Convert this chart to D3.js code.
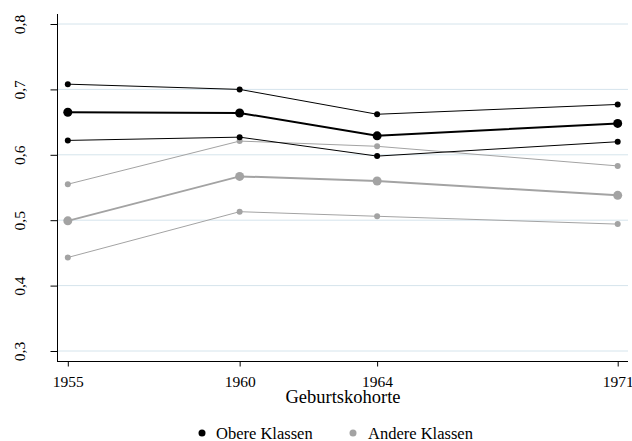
<!DOCTYPE html>
<html><head><meta charset="utf-8">
<script src="https://cdn.jsdelivr.net/npm/d3@7"></script>
<style>body{margin:0;background:#fff}svg{display:block}text{font-family:"Liberation Serif","Times New Roman",serif;fill:#000}</style>
</head><body>
<script>
const years = [1955, 1960, 1964, 1971];
const yTicks = [0.3, 0.4, 0.5, 0.6, 0.7, 0.8];
const obereMean = [0.665, 0.664, 0.629, 0.648];
const obereUpper = [0.708, 0.700, 0.662, 0.677];
const obereLower = [0.622, 0.627, 0.598, 0.620];
const andereMean = [0.499, 0.567, 0.560, 0.538];
const andereUpper = [0.555, 0.621, 0.613, 0.583];
const andereLower = [0.443, 0.513, 0.506, 0.494];
const legendLabels = ["Obere Klassen", "Andere Klassen"];
const xTitle = "Geburtskohorte";

const W = 632, H = 441;
const svg = d3.select("body").append("svg").attr("width", W).attr("height", H);

const x = d3.scaleLinear().domain([1954.7, 1971.3]).range([57.5, 628]);
const y = d3.scaleLinear().domain([0.3, 0.8]).range([351, 24]);
const plotTop = 14, plotBottom = 361.5;

// grid
svg.append("g").selectAll("line").data(yTicks).join("line")
  .attr("x1", 58).attr("x2", 628)
  .attr("y1", d => y(d)).attr("y2", d => y(d))
  .attr("stroke", "#d5e4ec").attr("stroke-width", 1);

// y axis
const yAxis = svg.append("g").attr("transform", "translate(57.5,0)")
  .call(d3.axisLeft(y).tickValues(yTicks).tickSize(7).tickFormat(d => d3.format(".1f")(d).replace(".", ",")));
yAxis.attr("font-family", null);
yAxis.select(".domain").remove();
yAxis.selectAll(".tick line").attr("stroke", "#000");
yAxis.selectAll(".tick text").attr("font-size", "15.5px").attr("text-anchor", "middle")
  .attr("x", 0).attr("dy", 0)
  .attr("transform", "translate(-33,0) rotate(-90)");
svg.append("line").attr("x1", 57.5).attr("x2", 57.5).attr("y1", plotTop).attr("y2", plotBottom + 0.5)
  .attr("stroke", "#000").attr("stroke-width", 1);

// x axis
const xAxis = svg.append("g").attr("transform", `translate(0,${plotBottom})`)
  .call(d3.axisBottom(x).tickValues(years).tickSize(5).tickFormat(d3.format("d")));
xAxis.attr("font-family", null);
xAxis.select(".domain").remove();
xAxis.selectAll(".tick line").attr("stroke", "#000");
xAxis.selectAll(".tick text").attr("font-size", "15.5px").attr("y", 25).attr("dy", 0);
svg.append("line").attr("x1", 57).attr("x2", 628).attr("y1", plotBottom).attr("y2", plotBottom)
  .attr("stroke", "#000").attr("stroke-width", 1);

svg.append("text").attr("x", 343).attr("y", 403).attr("text-anchor", "middle")
  .attr("font-size", "18.5px").text(xTitle);

const line = d3.line().x((d, i) => x(years[i])).y(d => y(d));
const series = [
  {v: andereUpper, c: "#a3a3a3", w: 1, r: 3},
  {v: andereLower, c: "#a3a3a3", w: 1, r: 3},
  {v: andereMean, c: "#a3a3a3", w: 2, r: 4.5},
  {v: obereUpper, c: "#000", w: 1, r: 3},
  {v: obereLower, c: "#000", w: 1, r: 3},
  {v: obereMean, c: "#000", w: 2, r: 4.5}
];
series.forEach(s => {
  svg.append("path").datum(s.v).attr("d", line).attr("fill", "none")
    .attr("stroke", s.c).attr("stroke-width", s.w);
  svg.append("g").selectAll("circle").data(s.v).join("circle")
    .attr("cx", (d, i) => x(years[i])).attr("cy", d => y(d)).attr("r", s.r).attr("fill", s.c);
});

// legend
const leg = [{t: legendLabels[0], c: "#000", cx: 202, tx: 216}, {t: legendLabels[1], c: "#a3a3a3", cx: 353, tx: 368}];
leg.forEach(l => {
  svg.append("circle").attr("cx", l.cx).attr("cy", 433).attr("r", 3.5).attr("fill", l.c);
  svg.append("text").attr("x", l.tx).attr("y", 438.5).attr("font-size", "16.5px").text(l.t);
});
</script>
</body></html>
